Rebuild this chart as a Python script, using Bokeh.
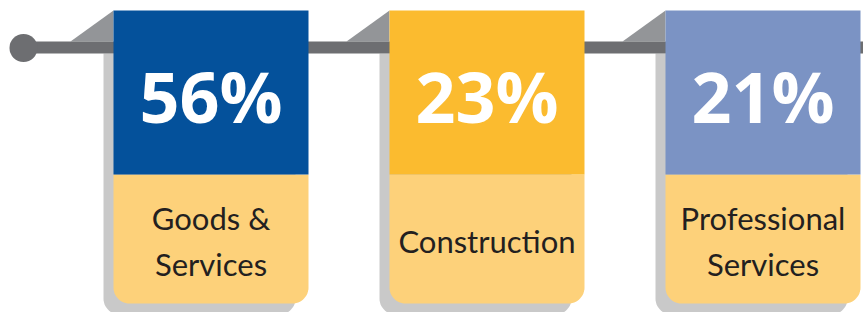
import numpy as np
from bokeh.plotting import figure
from bokeh.models import Range1d
from bokeh.core.properties import value
from bokeh.embed import file_html
from bokeh.resources import INLINE

# ---- data ----
shares = [56, 23, 21]
share_labels = ["56%", "23%", "21%"]
categories = [["Goods &", "Services"], ["Construction"], ["Professional", "Services"]]
header_colors = ["#04519b", "#fbbb2f", "#7b93c4"]

# ---- styles / layout ----
LABEL_BG = "#fdd17a"
ROD = "#6d6e71"
FOLD = "#939598"
SHADOW = "#c9c9c9"
TEXT_DARK = "#231f20"

PANEL_X0 = 113
PANEL_STEP = 276
PANEL_W = 195
TOP = 10
HEADER_BOTTOM = 174
BOTTOM = 303
RADIUS = 16

W, H = 863, 312
p = figure(width=W, height=H, output_backend="svg", toolbar_location=None,
           x_range=Range1d(0, W), y_range=Range1d(H, 0),
           x_axis_location=None, y_axis_location=None, min_border=0)
p.grid.visible = False
p.outline_line_color = None
p.background_fill_color = "white"
p.border_fill_color = "white"


def rounded_bottom(x0, x1, y0, y1, r, n=14):
    xs = [x0, x1]
    ys = [y0, y0]
    a = np.linspace(0, np.pi / 2, n)
    xs += list(x1 - r + r * np.cos(a))
    ys += list(y1 - r + r * np.sin(a))
    a = np.linspace(np.pi / 2, np.pi, n)
    xs += list(x0 + r + r * np.cos(a))
    ys += list(y1 - r + r * np.sin(a))
    return xs, ys


sh_xs, sh_ys, fold_xs, fold_ys = [], [], [], []
hd_xs, hd_ys, lb_xs, lb_ys = [], [], [], []
for i in range(len(shares)):
    x0 = PANEL_X0 + i * PANEL_STEP
    x1 = x0 + PANEL_W
    xs, ys = rounded_bottom(x0 - 10, x0 + 182, 53, 314, RADIUS)
    sh_xs.append(xs); sh_ys.append(ys)
    fold_xs.append([x0 - 43, x0, x0]); fold_ys.append([41, TOP, 41])
    hd_xs.append([x0, x1, x1, x0]); hd_ys.append([TOP, TOP, HEADER_BOTTOM, HEADER_BOTTOM])
    xs, ys = rounded_bottom(x0, x1, HEADER_BOTTOM, BOTTOM, RADIUS)
    lb_xs.append(xs); lb_ys.append(ys)

p.patches(sh_xs, sh_ys, fill_color=SHADOW, line_color=None)
p.patches(fold_xs, fold_ys, fill_color=FOLD, line_color=None)
# rod
p.quad(left=[23], right=[870], top=[41], bottom=[53], fill_color=ROD, line_color=None)
p.scatter(x=[23], y=[47.5], size=28, fill_color=ROD, line_color=None)
# panels
p.patches(lb_xs, lb_ys, fill_color=LABEL_BG, line_color=None)
p.patches(hd_xs, hd_ys, fill_color=header_colors, line_color=None)

cx = [PANEL_X0 + i * PANEL_STEP + PANEL_W / 2 for i in range(len(shares))]
p.text(x=cx, y=[95] * len(shares), text=share_labels, text_color="white",
       text_font=value("Open Sans"), text_font_size="70px", text_font_style="bold",
       text_align="center", text_baseline="alphabetic")

tx, ty, tt = [], [], []
mid = (HEADER_BOTTOM + BOTTOM) / 2 + 12.5 - 11
for i, lines in enumerate(categories):
    n = len(lines)
    for j, line in enumerate(lines):
        tx.append(cx[i])
        ty.append(mid + (j - (n - 1) / 2) * 46)
        tt.append(line)
p.text(x=tx, y=ty, text=tt, text_color=TEXT_DARK,
       text_font=value("Lato"), text_font_size="31px",
       text_align="center", text_baseline="alphabetic")

open("out.html", "w").write(file_html(p, INLINE))
